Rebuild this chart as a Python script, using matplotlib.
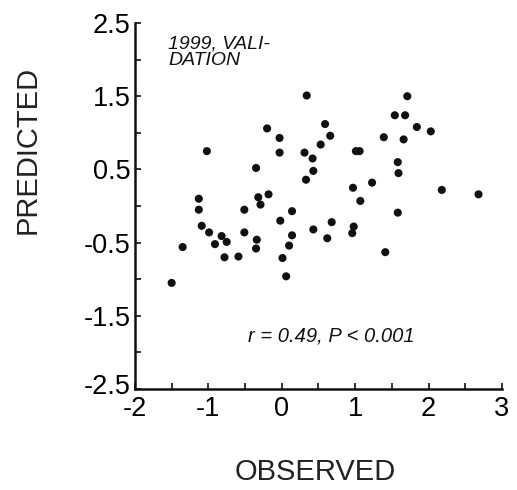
"""Scatter of predicted vs observed values, 1999 validation set."""

import matplotlib

matplotlib.use("Agg")
import matplotlib.pyplot as plt
import matplotlib.transforms as mtransforms

plt.rcParams["font.family"] = ["Liberation Sans", "DejaVu Sans"]
plt.rcParams["axes.unicode_minus"] = False

observed = [
    -1.50, -1.35, -1.02, -1.13, -1.13, -1.09, -0.99, -0.91, -0.82, -0.75,
    -0.78, -0.59, -0.51, -0.51, -0.35, -0.32, -0.29, -0.18, -0.34, -0.35,
    -0.20, -0.03, -0.03, -0.02, 0.14, 0.14, 0.10, 0.01, 0.06, 0.34,
    0.31, 0.33, 0.59, 0.66, 0.53, 0.42, 0.43, 0.43, 0.62, 0.68,
    1.01, 1.06, 0.97, 1.07, 1.23, 0.98, 0.96, 1.41, 1.39, 1.54,
    1.68, 1.71, 1.66, 1.84, 2.03, 1.58, 1.59, 1.58, 2.18, 2.68,
]
predicted = [
    -1.05, -0.56, 0.75, 0.10, -0.05, -0.27, -0.36, -0.52, -0.41, -0.49,
    -0.70, -0.69, -0.36, -0.05, 0.52, 0.12, 0.02, 0.16, -0.46, -0.58,
    1.06, 0.93, 0.73, -0.20, -0.07, -0.40, -0.54, -0.71, -0.96, 1.51,
    0.73, 0.36, 1.12, 0.96, 0.84, 0.65, 0.48, -0.32, -0.44, -0.22,
    0.75, 0.75, 0.25, 0.07, 0.32, -0.28, -0.37, -0.63, 0.94, 1.24,
    1.24, 1.50, 0.91, 1.08, 1.02, 0.60, 0.45, -0.09, 0.22, 0.16,
]

x_ticks = [-2, -1, 0, 1, 2, 3]
x_tick_labels = ["-2", "-1", "0", "1", "2", "3"]
x_minor = [-1.5, -0.5, 0.5, 1.5, 2.5]
y_ticks = [-2.5, -1.5, -0.5, 0.5, 1.5, 2.5]
y_tick_labels = ["-2.5", "-1.5", "-0.5", "0.5", "1.5", "2.5"]
y_minor = [-2, -1, 0, 1, 2]

fig = plt.figure(figsize=(5.17, 4.90), dpi=100)
ax = fig.add_axes([0.261, 0.206, 0.710, 0.747])

ax.scatter(observed, predicted, s=34, color="#111111", edgecolors="none", zorder=3)

ax.set_xlim(-2, 3)
ax.set_ylim(-2.5, 2.5)
ax.set_xticks(x_ticks, labels=x_tick_labels)
ax.set_xticks(x_minor, minor=True)
ax.set_yticks(y_ticks, labels=y_tick_labels)
ax.set_yticks(y_minor, minor=True)
ax.tick_params(which="both", direction="in", length=4, width=1.2, labelsize=19.5, color="#111111")
ax.tick_params(axis="x", pad=5)
ax.tick_params(axis="y", pad=3)

# nudge the bottom y label up a little so it clears the "-2" below it
bottom_label = ax.get_yticklabels()[0]
bottom_label.set_transform(bottom_label.get_transform()
                           + mtransforms.ScaledTranslation(0, 4 / 72, fig.dpi_scale_trans))

for spine in ("top", "right"):
    ax.spines[spine].set_visible(False)
for spine in ("left", "bottom"):
    ax.spines[spine].set_linewidth(1.8)
    ax.spines[spine].set_color("#111111")

ax.text(-1.55, 2.33, "1999, VALI-\nDATION", fontsize=14, style="italic",
        va="top", ha="left", linespacing=1.0, color="#111111")
ax.text(-0.46, -1.77, "r = 0.49, P < 0.001", fontsize=14.5, style="italic",
        va="center", ha="left", color="#111111")

fig.text(0.054, 0.694, "PREDICTED", rotation=90, fontsize=21, ha="center", va="center", color="#222222")
fig.text(0.609, 0.037, "OBSERVED", fontsize=21, ha="center", va="center", color="#222222")

fig.savefig("out.png", dpi=100)
plt.close(fig)
